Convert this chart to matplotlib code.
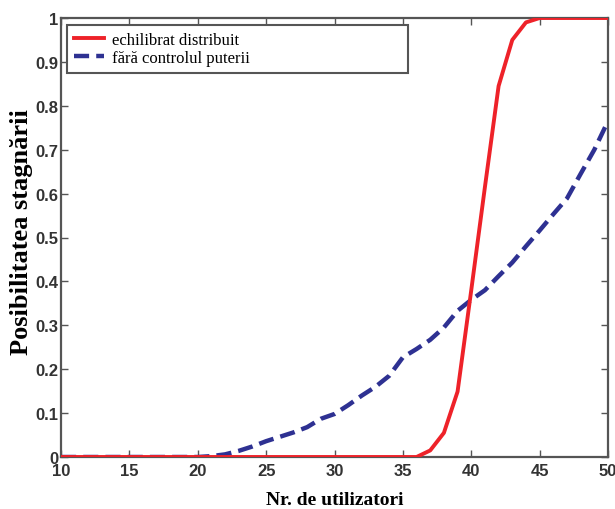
import matplotlib
matplotlib.use("Agg")
import matplotlib.pyplot as plt
import numpy as np

# Data
users = [10, 11, 12, 13, 14, 15, 16, 17, 18, 19, 20, 21, 22, 23, 24, 25, 26, 27, 28, 29,
         30, 31, 32, 33, 34, 35, 36, 37, 38, 39, 40, 41, 42, 43, 44, 45, 46, 47, 48, 49, 50]
echilibrat = [0, 0, 0, 0, 0, 0, 0, 0, 0, 0, 0, 0, 0, 0, 0, 0, 0, 0, 0, 0,
              0, 0, 0, 0, 0, 0, 0, 0.015, 0.055, 0.149, 0.38, 0.615, 0.845, 0.95, 0.99, 1.0,
              1.0, 1.0, 1.0, 1.0, 1.0]
fara_control = [0, 0, 0, 0, 0, 0, 0, 0, 0, 0, 0, 0.002, 0.006, 0.014, 0.024, 0.036, 0.046,
                0.056, 0.068, 0.087, 0.098, 0.118, 0.14, 0.16, 0.185, 0.227, 0.246, 0.267,
                0.295, 0.333, 0.358, 0.38, 0.412, 0.443, 0.48, 0.516, 0.553, 0.589, 0.645,
                0.70, 0.765]
x_ticks = [10, 15, 20, 25, 30, 35, 40, 45, 50]
y_ticks = [0, 0.1, 0.2, 0.3, 0.4, 0.5, 0.6, 0.7, 0.8, 0.9, 1]
y_tick_labels = ["0", "0.1", "0.2", "0.3", "0.4", "0.5", "0.6", "0.7", "0.8", "0.9", "1"]
labels = ["echilibrat distribuit", "f\u0103r\u0103 controlul puterii"]

fig = plt.figure(figsize=(6.15, 5.1), dpi=100)
ax = fig.add_axes([61/615, 1-458/510, 547/615, 439/510])

ax.plot(users, echilibrat, color="#ee2229", lw=2.8, label=labels[0], zorder=3)
ax.plot(users, fara_control, color="#2e3192", lw=3.2, ls=(0, (3.4, 1.6)),
        label=labels[1], zorder=2)

ax.set_xlim(10, 50)
ax.set_ylim(0, 1)
ax.set_xticks(x_ticks)
ax.set_yticks(y_ticks)
ax.set_yticklabels(y_tick_labels)

ax.tick_params(direction="in", length=5, width=1, top=True, right=True,
               colors="#555555", labelcolor="#333333", labelsize=12)
ax.tick_params(axis="x", pad=4)
ax.tick_params(axis="y", pad=2)
for lbl in ax.get_xticklabels() + ax.get_yticklabels():
    lbl.set_fontweight("bold")
    lbl.set_family("Liberation Sans")

for s in ax.spines.values():
    s.set_color("#555555")
    s.set_linewidth(1.6)

ax.set_xlabel("Nr. de utilizatori", fontsize=14, fontweight="bold",
              family="Liberation Serif", labelpad=10)
ax.set_ylabel("Posibilitatea stagn\u0103rii", fontsize=19, fontweight="bold",
              family="Liberation Serif")
ax.yaxis.set_label_coords(-0.052, 0.515)

leg = ax.legend(loc="upper left", bbox_to_anchor=(0.011, 0.884, 0.623, 0.100),
                mode="expand", fancybox=False, framealpha=1, edgecolor="#555555",
                prop={"family": "Liberation Serif", "size": 12},
                handlelength=1.8, borderpad=0.4, labelspacing=0.15,
                handletextpad=0.5, borderaxespad=0)
leg.get_frame().set_linewidth(1.5)

fig.savefig("out.png", dpi=100, facecolor="white")
